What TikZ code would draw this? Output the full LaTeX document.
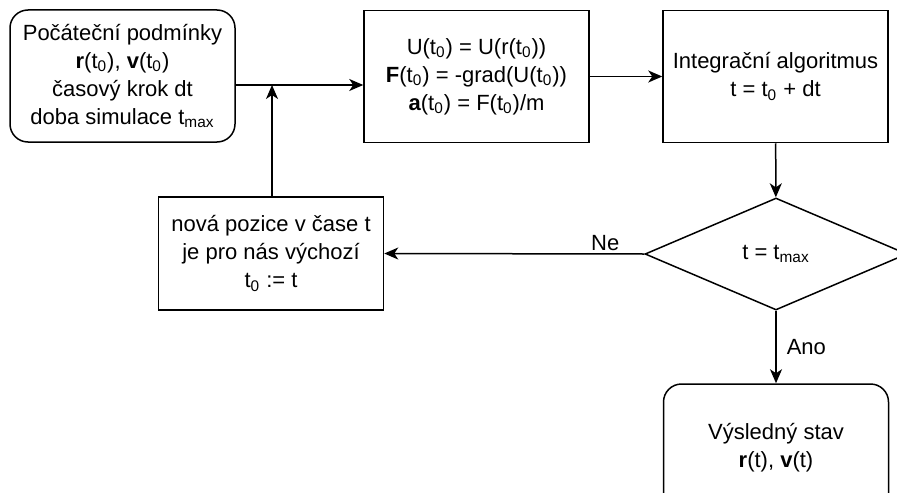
\documentclass[tikz,border=0pt]{standalone}
\usepackage{fontspec}
\setmainfont{Liberation Sans}
\usetikzlibrary{shapes.geometric,arrows.meta,positioning}
\newcommand{\sub}[1]{\textsubscript{#1}}

\begin{document}
\begin{tikzpicture}[x=0.5pt,y=-0.5pt,
    every node/.style={font=\fontsize{11}{14}\selectfont, align=center},
    box/.style={draw, line width=0.75pt, minimum width=112.5pt, minimum height=66pt, inner sep=2pt},
    roundbox/.style={box, rounded corners=9pt},
    decision/.style={draw, line width=0.75pt, diamond, aspect=2.3, inner sep=0pt,
                     minimum width=131pt, minimum height=56pt},
    flow/.style={line width=0.75pt, -{Stealth[length=7pt,width=6pt,inset=2pt]}},
    lbl/.style={inner sep=1pt}]
    \clip (0,0) rectangle (897,492);
    \useasboundingbox (0,0) rectangle (897,492);

    % Start
    \node[roundbox] (start) at (122.5,76) {Počáteční podmínky\\\textbf{r}(t\sub{0}), \textbf{v}(t\sub{0})\\časový krok dt\\doba simulace t\sub{max}};
    % Forces
    \node[box] (forces) at (476.5,76.5) {U(t\sub{0}) = U(r(t\sub{0}))\\\textbf{F}(t\sub{0}) = -grad(U(t\sub{0}))\\\textbf{a}(t\sub{0}) = F(t\sub{0})/m};
    % Integration
    \node[box] (integ) at (775.5,76.5) {Integrační algoritmus\\t = t\sub{0} + dt};
    % Test
    \node[decision] (test) at (776,254) {t = t\sub{max}};
    % New position
    \node[box, minimum height=56.5pt] (newpos) at (271,253.5) {nová pozice v čase t\\je pro nás výchozí\\t\sub{0} := t};
    % Result (cut off at the bottom)
    \node[roundbox, minimum height=64pt] (result) at (776,448) {Výsledný stav\\\textbf{r}(t), \textbf{v}(t)};

    \coordinate (join) at (272,85);

    \draw[flow] (start.east |- join) -- (forces.west |- join);
    \draw[flow] (forces) -- (integ);
    \draw[flow] (integ) -- (test);
    \draw[flow] (test.west) -- node[lbl, above, pos=0.15] {Ne} (newpos.east);
    \draw[flow] (newpos.north -| join) -- (join);
    \draw[flow] (test.south) -- node[lbl, right=4pt, pos=0.5] {Ano} (result.north);
\end{tikzpicture}
\end{document}
